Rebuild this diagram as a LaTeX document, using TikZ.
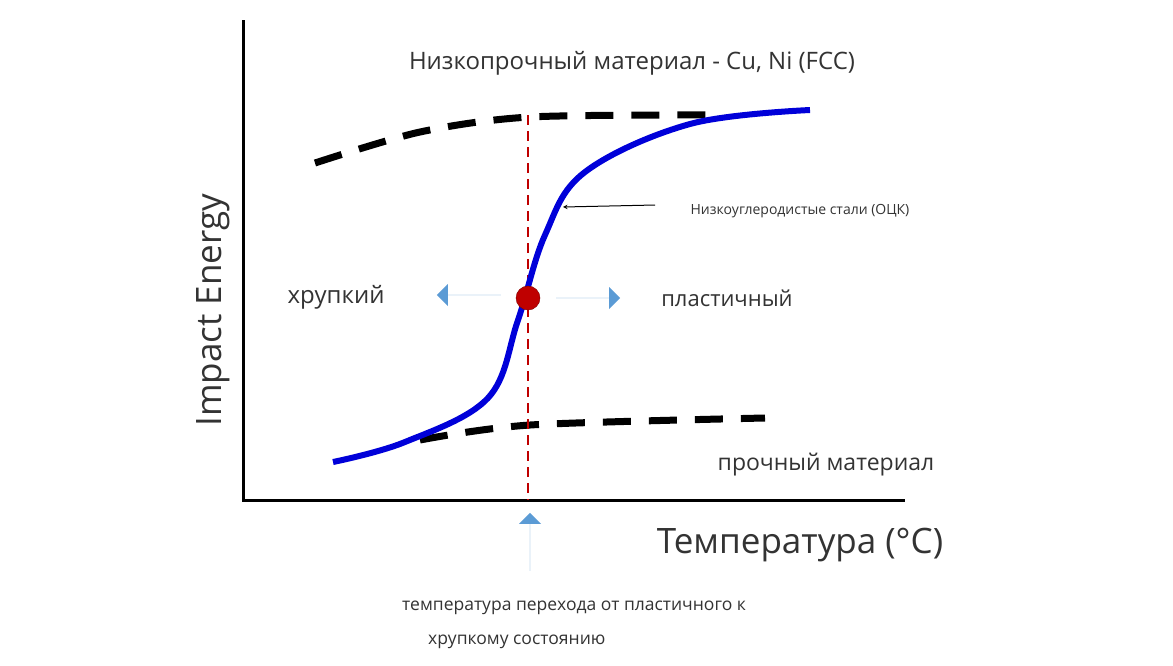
\documentclass[tikz,border=0pt]{standalone}
\usepackage{fontspec}
\setmainfont{Open Sans}
\usepackage{tikz}
\usetikzlibrary{shapes.arrows}
\definecolor{barrow}{HTML}{5B9BD5}
\definecolor{txt}{HTML}{333333}
\begin{document}
\begin{tikzpicture}
[x=1pt,y=-1pt,
lbl/.style={text=txt,font=\fontsize{22}{26}\selectfont,inner sep=0pt},
axl/.style={text=txt,font=\fontsize{35}{40}\selectfont,inner sep=0pt},
dsh/.style={line width=7pt,dash pattern=on 28pt off 18pt},
barr/.style={single arrow,fill=barrow,draw=none,minimum width=22pt,
  single arrow head extend=10pt,minimum height=64pt,inner sep=0pt}]
\useasboundingbox[fill=white] (0,0) rectangle (1173,665);
% axes
\coordinate (top) at (243,20);
\coordinate (orig) at (243,500);
\coordinate (xend) at (905,500);
\draw [line width=3pt] (top) -- (orig) -- (xend);
\node at (213,310) [axl,rotate=90] (ylab) {Impact Energy};
\node at (800,545) [axl] (xlab) {Температура (°C)};
\node at (632,63) [lbl,font=\fontsize{24}{28}\selectfont] (title) {Низкопрочный материал - Cu, Ni (FCC)};

% dashed limits
\draw [dsh] plot [smooth] coordinates {(315,163) (420,132) (530,117) (715,115)};
\draw [dsh] plot [smooth] coordinates {(420,440) (530,425) (765,418)};
% transition line
\coordinate (rtop) at (528,115);
\coordinate (rbot) at (528,500);
\draw [red!75!black,line width=2.5pt,dash pattern=on 10pt off 6pt] (rtop) -- (rbot);
% curve
\draw [blue!85!black,line width=6pt] plot [smooth,tension=0.6] coordinates
  {(333,462) (405,442) (488,398) (518,320) (545,235) (585,172) (690,124) (810,110)};
\node at (528,298) [circle,fill=red!75!black,draw=red!50!black,minimum size=24pt] (dot) {};

\node at (469,295) [barr,shape border rotate=180] (left) {};
\node at (588,298) [barr] (right) {};
\node at (530,542) [barr,shape border rotate=90,minimum height=58pt] (up) {};

\node at (336,297) [lbl,font=\fontsize{24}{28}\selectfont] (brit) {хрупкий};
\node at (727,298) [lbl] (duct) {пластичный};
\node at (826,465) [lbl,font=\fontsize{23}{27}\selectfont] (strong) {прочный материал};
\node at (800,211) [text=txt,font=\fontsize{14}{16}\selectfont,inner sep=0pt] (steel) {Низкоуглеродистые стали (ОЦК)};
\coordinate (oncurve) at (563,207);
\draw [-stealth,line width=1pt] (655,205) -- (oncurve);

\node at (402,608) [lbl,anchor=west,font=\fontsize{17.5}{21}\selectfont] (cap1) {температура перехода от пластичного к};
\node at (428,642) [lbl,anchor=west,font=\fontsize{17.5}{21}\selectfont] (cap2) {хрупкому состоянию};
\end{tikzpicture}
\end{document}
